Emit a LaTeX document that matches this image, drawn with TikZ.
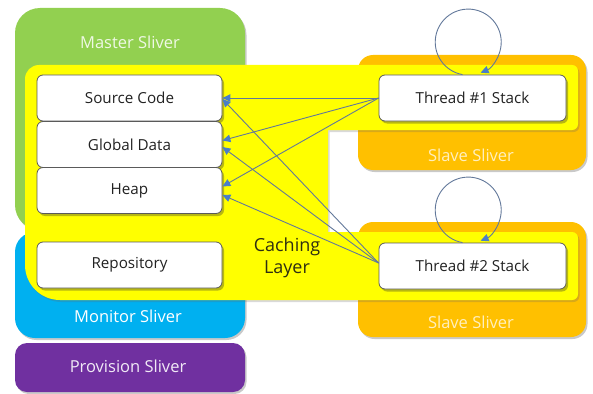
\documentclass[tikz,border=0pt]{standalone}
\usepackage{fontspec}
\setmainfont{Open Sans}
\usetikzlibrary{arrows.meta,shadows}

\definecolor{masterc}{HTML}{92D050}
\definecolor{monitorc}{HTML}{00B0F0}
\definecolor{provisionc}{HTML}{7030A0}
\definecolor{slavec}{HTML}{FFC000}
\definecolor{cachec}{HTML}{FFFF00}
\definecolor{boxline}{HTML}{5A5A5A}
\definecolor{linkc}{HTML}{62789A}
\definecolor{tipc}{HTML}{4A7EC8}
\definecolor{cachetext}{HTML}{2E2E12}
\definecolor{labeltext}{HTML}{222222}

\begin{document}
\begin{tikzpicture}[x=1pt,y=-1pt,
  softshadow/.style={drop shadow={shadow xshift=1.5pt,shadow yshift=-2pt,opacity=0.3,fill=black!70}},
  sliverbox/.style={inner sep=0pt,minimum width=230pt,softshadow},
  sliverlabel/.style={font=\fontsize{16.5}{19}\selectfont,inner sep=0pt},
  slavebox/.style={fill=slavec,rounded corners=15pt,inner sep=0pt,minimum width=228pt,minimum height=115pt,softshadow},
  membox/.style={draw=boxline,fill=white,rounded corners=6pt,line width=0.8pt,inner sep=0pt,
    minimum width=185pt,minimum height=46pt,font=\fontsize{15.2}{18}\selectfont,text=labeltext,
    drop shadow={shadow xshift=2pt,shadow yshift=-2.5pt,opacity=0.35,fill=black!80}},
  threadbox/.style={membox,minimum width=187pt},
  link/.style={draw=linkc,line width=0.9pt,-{Triangle[length=8pt,width=7.5pt,fill=tipc,color=tipc]}},
]
\useasboundingbox (0,0) rectangle (593,393);

% sliver containers
\node[sliverbox,fill=masterc,rounded corners=25pt,minimum height=222pt] (master) at (130,119) {};
\node[sliverbox,fill=monitorc,rounded corners=20pt,minimum height=106pt] (monitor) at (130,285) {};
\node[sliverbox,fill=provisionc,rounded corners=12pt,minimum height=49pt] (provision) at (130,367.5) {};
\node[slavebox] (slave1) at (472,112.5) {};
\node[slavebox] (slave2) at (472,279.5) {};

% caching layer spanning all slivers
\fill[cachec,drop shadow={shadow xshift=1.5pt,shadow yshift=-2pt,opacity=0.25,fill=black!60}]
  (25,120) [rounded corners=14pt] -- (25,65) [rounded corners=6pt] -- (578,65) -- (578,130)
  [sharp corners] -- (328,130) -- (328,232) [rounded corners=6pt] -- (578,232) -- (578,300)
  [rounded corners=35pt] -- (25,300) [sharp corners] -- cycle;

% sliver captions
\node[sliverlabel,text=white!85!masterc] (masterlbl) at (130,42) {Master Sliver};
\node[sliverlabel,text=white] (monitorlbl) at (128,316) {Monitor Sliver};
\node[sliverlabel,text=white!90!provisionc] (provisionlbl) at (128,366) {Provision Sliver};
\node[sliverlabel,text=white!75!slavec] (slave1lbl) at (471,155) {Slave Sliver};
\node[sliverlabel,text=white!75!slavec] (slave2lbl) at (471,322) {Slave Sliver};
\node[font=\fontsize{18}{22}\selectfont,text=cachetext,align=center,inner sep=0pt] (cachelbl) at (287,258) {Caching\\Layer};

% memory areas
\node[membox] (src) at (129.5,98) {Source Code};
\node[membox] (gd) at (129.5,144.5) {Global Data};
\node[membox] (heap) at (129.5,190.5) {Heap};
\node[membox] (repo) at (129.5,265) {Repository};

% thread stacks
\node[threadbox] (t1) at (472.5,98) {Thread \#1 Stack};
\node[threadbox] (t2) at (472.5,266) {Thread \#2 Stack};

% references from stacks to shared areas
\draw[link] (t1.west) -- (src.east);
\draw[link] (t1.west) -- ([yshift=4pt]gd.east);
\draw[link] (t1.west) -- ([yshift=4pt]heap.east);
\draw[link] ([yshift=3pt]t2.west) -- ([yshift=-1pt]src.east);
\draw[link] ([yshift=3pt]t2.west) -- ([yshift=-2.5pt]gd.east);
\draw[link] ([yshift=3pt]t2.west) -- ([yshift=-4.5pt]heap.east);

% self references of each stack
\draw[link] ([xshift=-10pt]t1.north) arc[start angle=260,end angle=-68,radius=33pt];
\draw[link] ([xshift=-10pt]t2.north) arc[start angle=260,end angle=-68,radius=33pt];
\end{tikzpicture}
\end{document}
